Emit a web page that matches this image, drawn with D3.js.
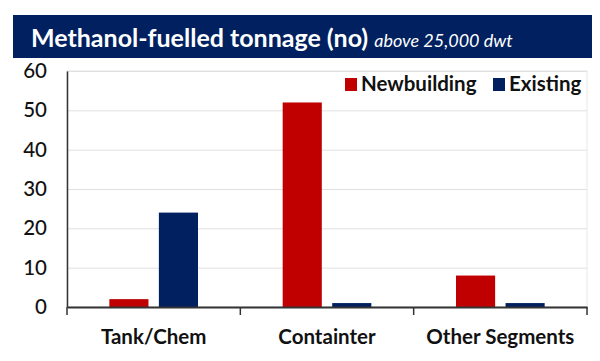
<!DOCTYPE html>
<html><head><meta charset="utf-8">
<script src="https://cdn.jsdelivr.net/npm/d3@7"></script>
<style>
body{margin:0;background:#fff;}
svg{display:block;font-family:Lato,"Open Sans",sans-serif;}
</style></head>
<body>
<svg id="chart" width="600" height="361"></svg>
<script>
const categories = ["Tank/Chem", "Containter", "Other Segments"];
const seriesNames = ["Newbuilding", "Existing"];
const newbuilding = [2, 52, 8];
const existing = [24, 1, 1];
const yTicks = [0, 10, 20, 30, 40, 50, 60];
const colors = ["#C00000", "#002060"];

(function () {
const svg = d3.select("#chart");
const mLeft = 67, mRight = 587, mTop = 71, mBottom = 307;

// Title banner
svg.append("rect").attr("x", 13).attr("y", 15).attr("width", 579).attr("height", 43).attr("fill", "#002060");
const title = svg.append("text").attr("x", 31).attr("y", 47).attr("fill", "#fff");
title.append("tspan").attr("font-weight", 700).attr("font-size", 25).text("Methanol-fuelled tonnage (no) ");
title.append("tspan").attr("font-style", "italic").attr("font-size", 18).text("above 25,000 dwt");

const x = d3.scaleBand().domain(categories).range([mLeft, mRight]);
const sub = d3.scaleBand().domain(seriesNames).range([0, x.bandwidth()]).paddingInner(0.21).paddingOuter(0.855);
const y = d3.scaleLinear().domain([0, 60]).range([mBottom, mTop]);

// plot border
svg.append("rect").attr("x", mLeft).attr("y", mTop).attr("width", mRight - mLeft).attr("height", mBottom - mTop)
  .attr("fill", "none").attr("stroke", "#e6e6e6").attr("stroke-width", 1);

// gridlines
svg.append("g").selectAll("line").data(yTicks.filter(d => d > 0)).join("line")
  .attr("x1", mLeft).attr("x2", mRight).attr("y1", d => y(d) + 0.5).attr("y2", d => y(d) + 0.5)
  .attr("stroke", "#e0e0e0").attr("stroke-width", 1);

// bars
const data = categories.map((c, i) => ({c, vals: [newbuilding[i], existing[i]]}));
const groups = svg.append("g").selectAll("g").data(data).join("g")
  .attr("transform", d => `translate(${x(d.c)},0)`);
groups.selectAll("rect").data(d => d.vals.map((v, j) => ({v, s: seriesNames[j], j}))).join("rect")
  .attr("x", d => sub(d.s)).attr("width", sub.bandwidth())
  .attr("y", d => y(d.v)).attr("height", d => y(0) - y(d.v))
  .attr("fill", d => colors[d.j]);

// y axis
const yAxis = svg.append("g").attr("transform", `translate(${mLeft},0)`)
  .call(d3.axisLeft(y).tickValues(yTicks).tickSize(0).tickPadding(20));
yAxis.select(".domain").attr("stroke", "#333").attr("stroke-width", 1.5);
yAxis.selectAll("text").attr("font-size", 20.5).attr("font-family", "Lato").attr("font-weight", 500).attr("fill", "#111");

// x axis
const xAxis = svg.append("g").attr("transform", `translate(0,${mBottom})`)
  .call(d3.axisBottom(x).tickSize(0).tickFormat(""));
xAxis.select(".domain").attr("stroke", "#333").attr("stroke-width", 2);
xAxis.selectAll(".tick").remove();
const bounds = [mLeft, ...categories.slice(1).map(c => x(c)), mRight];
svg.append("g").selectAll("line").data(bounds).join("line")
  .attr("x1", d => d).attr("x2", d => d).attr("y1", mBottom).attr("y2", mBottom + 8)
  .attr("stroke", "#333").attr("stroke-width", 1.5);
svg.append("g").selectAll("text").data(categories).join("text")
  .attr("x", d => x(d) + x.bandwidth() / 2).attr("y", 344)
  .attr("text-anchor", "middle").attr("font-size", 20.5).attr("font-weight", 700).attr("fill", "#111")
  .text(d => d);

// legend
const legend = [{name: seriesNames[0], x: 345}, {name: seriesNames[1], x: 493}];
const lg = svg.append("g").selectAll("g").data(legend).join("g").attr("transform", d => `translate(${d.x},0)`);
lg.append("rect").attr("x", 0).attr("y", 78).attr("width", 12).attr("height", 13).attr("fill", (d, i) => colors[i]);
lg.append("text").attr("x", 16).attr("y", 91).attr("font-size", 20.5).attr("font-weight", 700).attr("fill", "#111").text(d => d.name);
})();
</script>
</body></html>
